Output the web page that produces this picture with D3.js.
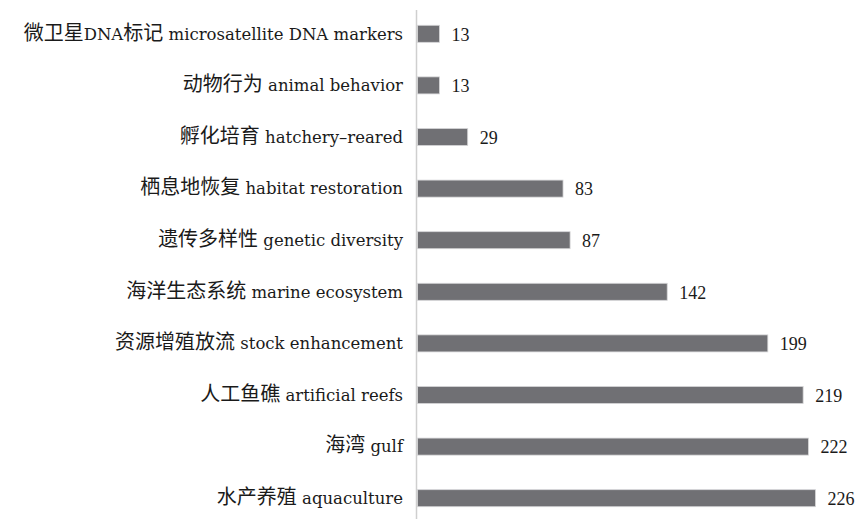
<!DOCTYPE html>
<html>
<head>
<meta charset="utf-8">
<script src="https://cdn.jsdelivr.net/npm/d3@7"></script>
<style>
  html, body { margin: 0; padding: 0; background: #fff; }
  svg { display: block; }
  .lbl { fill: #1a1a1a; }
  .latin { font-family: "DejaVu Serif", serif; font-size: 16.5px; }
  .han { font-family: "Noto Sans CJK SC", sans-serif; font-size: 20px; }
  .val { font-family: "Liberation Serif", serif; font-size: 18px; fill: #1a1a1a; }
</style>
</head>
<body>
<svg id="chart" width="863" height="519"></svg>
<script>
// Keyword frequencies, top to bottom
const categories = [
  "微卫星DNA标记 microsatellite DNA markers",
  "动物行为 animal behavior",
  "孵化培育 hatchery–reared",
  "栖息地恢复 habitat restoration",
  "遗传多样性 genetic diversity",
  "海洋生态系统 marine ecosystem",
  "资源增殖放流 stock enhancement",
  "人工鱼礁 artificial reefs",
  "海湾 gulf",
  "水产养殖 aquaculture"
];
const values = [13, 13, 29, 83, 87, 142, 199, 219, 222, 226];

const svg = d3.select("#chart");
const x0 = 416.5;

const x = d3.scaleLinear().domain([0, 226]).range([x0, 815.5]);
const y = d3.scaleBand().domain(categories).range([8, 524]).paddingInner(0.67).paddingOuter(0.335);

// vertical axis line
svg.append("line")
  .attr("x1", x0).attr("x2", x0)
  .attr("y1", 10).attr("y2", 519)
  .attr("stroke", "#cfcfcf").attr("stroke-width", 1.5);

const rows = svg.selectAll("g.row").data(categories).join("g").attr("class", "row");

rows.append("rect")
  .attr("x", x(0) + 1)
  .attr("y", d => y(d))
  .attr("width", (d, i) => x(values[i]) - x(0) - 1)
  .attr("height", y.bandwidth())
  .attr("fill", "#707074")
  .attr("stroke", "#d6d6d8").attr("stroke-width", 0.8);

// split each label into Han / Latin runs so each run gets its own font
const runs = s => s.match(/[\u0000-\u007F\u2013]+|[^\u0000-\u007F\u2013]+/g);

const labels = rows.append("text")
  .attr("class", "lbl")
  .attr("x", 403)
  .attr("y", d => y(d) + y.bandwidth() / 2)
  .attr("dy", "0.36em")
  .attr("text-anchor", "end");

labels.selectAll("tspan")
  .data(d => runs(d))
  .join("tspan")
  .attr("class", r => /[^\u0000-\u007F\u2013]/.test(r) ? "han" : "latin")
  .text(r => r);

rows.append("text")
  .attr("class", "val")
  .attr("x", (d, i) => x(values[i]) + 12)
  .attr("y", d => y(d) + y.bandwidth() / 2)
  .attr("dy", "0.38em")
  .text((d, i) => values[i]);
</script>
</body>
</html>
